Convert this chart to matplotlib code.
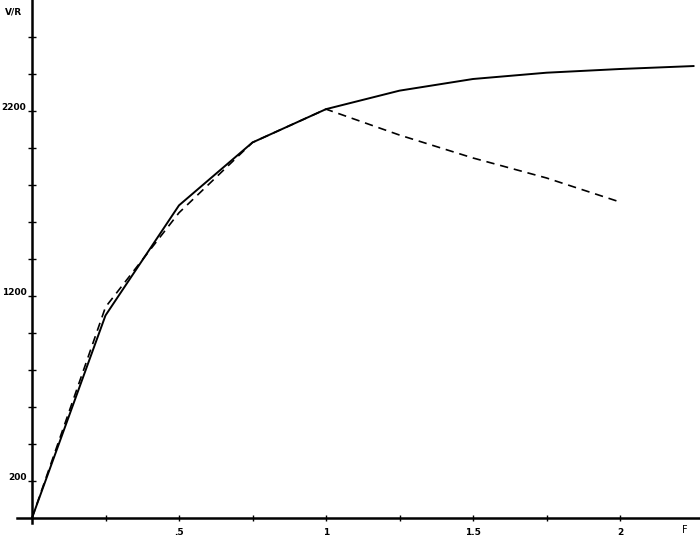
import numpy as np
import matplotlib
matplotlib.use("Agg")
import matplotlib.pyplot as plt
import matplotlib.transforms as mtransforms

# F values
f_vals = [0, 0.25, 0.5, 0.75, 1.0, 1.25, 1.5, 1.75, 2.0, 2.25]
# V/R, solid curve
vr_solid = [0, 1095, 1690, 2030, 2210, 2310, 2373, 2407, 2427, 2443]

# dashed curve
f_dash = [0, 0.25, 0.5, 0.75, 1.0, 1.25, 1.5, 1.75, 2.0]
vr_dash = [0, 1140, 1650, 2030, 2210, 2070, 1946, 1838, 1708]

x_major = [0.5, 1, 1.5, 2]
x_labels = ['.5', '1', '1.5', '2']
x_minor = [0.25, 0.75, 1.25, 1.75]
y_major = [200, 1200, 2200]
y_labels = ['200', '1200', '2200']
y_minor = [400, 600, 800, 1000, 1400, 1600, 1800, 2000, 2400, 2600]

fig = plt.figure(figsize=(7, 5.38), dpi=100)
ax = fig.add_axes([0, 0, 1, 1])

ax.plot(f_vals, vr_solid, color='black', lw=1.4)
ax.plot(f_dash, vr_dash, color='black', lw=1.2, linestyle=(0, (5, 3.5)))

ax.set_xlim(-32 / 294, 668 / 294)
ax.set_ylim(-20 / 0.185, 518 / 0.185)

for s in ['top', 'right']:
    ax.spines[s].set_visible(False)
ax.spines['left'].set_position(('data', 0))
ax.spines['bottom'].set_position(('data', 0))
ax.spines['left'].set_linewidth(1.8)
ax.spines['bottom'].set_linewidth(1.8)
ax.spines['left'].set_bounds(-27, 2800)
ax.spines['bottom'].set_bounds(-0.05, 2.27)

ax.set_xticks(x_major)
ax.set_xticklabels(x_labels)
ax.set_xticks(x_minor, minor=True)
ax.set_yticks(y_major)
ax.set_yticklabels(y_labels)
ax.set_yticks(y_minor, minor=True)

ax.tick_params(axis='both', which='both', direction='inout', width=1.0)
ax.tick_params(axis='x', which='both', length=5)
ax.tick_params(axis='y', which='both', length=6)
ax.tick_params(axis='x', which='major', pad=4.5, labelsize=6.5)
ax.tick_params(axis='y', which='major', pad=1, labelsize=6.5)

for lab in ax.get_xticklabels() + ax.get_yticklabels():
    lab.set_fontweight('bold')
offset = mtransforms.ScaledTranslation(0, 3 / 72, fig.dpi_scale_trans)
for lab in ax.get_yticklabels():
    lab.set_transform(lab.get_transform() + offset)

ax.text(5 / 700, 1 - 12 / 538, 'V/R', transform=ax.transAxes, fontsize=6.5,
        fontweight='bold', va='center', ha='left')
ax.text(2.22, -38, 'F', fontsize=7, ha='center', va='top')

fig.savefig('out.png', dpi=100)
